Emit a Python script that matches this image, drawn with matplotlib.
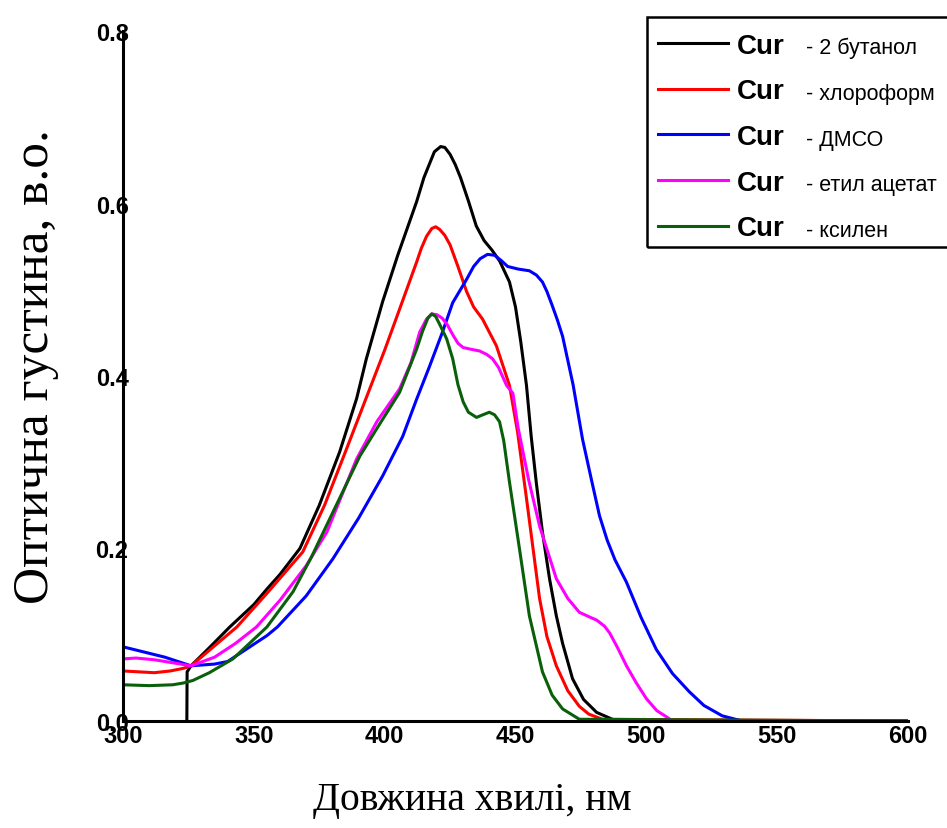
import matplotlib
matplotlib.use("Agg")
import matplotlib.pyplot as plt
from matplotlib.patches import Rectangle

# спектри поглинання куркуміну в різних розчинниках
black_x = [324.4, 324.5, 326, 333, 340.8, 350, 355, 360, 367.6, 375, 382.8, 389.3, 393, 399.2, 405, 412.2, 415,
           417, 419, 421.4, 423, 425, 427, 429, 432, 435, 438, 441, 444, 447.7, 450, 452, 454.2, 456, 458,
           460.3, 463, 465.6, 468, 471.8, 476, 481, 488.5, 600]
black_y = [0.0, 0.057, 0.064, 0.085, 0.109, 0.135, 0.153, 0.170, 0.200, 0.250, 0.312, 0.374, 0.420, 0.486, 0.540,
           0.602, 0.630, 0.645, 0.660, 0.666, 0.665, 0.657, 0.645, 0.630, 0.603, 0.574, 0.557, 0.546, 0.533, 0.509,
           0.480, 0.440, 0.389, 0.330, 0.275, 0.219, 0.165, 0.122, 0.090, 0.049, 0.025, 0.010, 0.0, 0.0]

red_x = [300, 306, 312, 318, 323, 326, 333, 343.5, 355, 368.7, 377, 385.5, 393, 400, 406, 412.2, 414, 416, 418,
         419.5, 421, 423, 425, 428, 431.3, 434, 437.4, 442.7, 447.7, 450.8, 454.2, 459.2, 462, 465.6, 470, 474.4,
         478, 483.2, 600]
red_y = [0.058, 0.057, 0.056, 0.058, 0.061, 0.064, 0.082, 0.109, 0.148, 0.196, 0.250, 0.316, 0.375, 0.430, 0.480,
         0.532, 0.548, 0.562, 0.571, 0.573, 0.570, 0.563, 0.552, 0.527, 0.498, 0.480, 0.466, 0.435, 0.389, 0.335,
         0.258, 0.142, 0.098, 0.064, 0.035, 0.017, 0.008, 0.002, 0.0]

blue_x = [300, 308, 316, 322, 326, 335, 340, 348, 355, 359, 370, 380.2, 390, 399.2, 406.9, 412.2, 417, 422.1, 426,
          431.3, 434, 436.5, 439.3, 442, 444.5, 447, 451, 455.3, 458, 460.3, 462, 464, 466, 468, 472, 475.6, 479,
          482.1, 485, 488, 492.4, 498, 503.8, 510, 516.4, 522, 529, 536.6, 600]
blue_y = [0.086, 0.080, 0.074, 0.068, 0.064, 0.066, 0.069, 0.085, 0.099, 0.109, 0.145, 0.188, 0.235, 0.284, 0.330,
          0.373, 0.410, 0.451, 0.485, 0.512, 0.527, 0.536, 0.541, 0.540, 0.534, 0.527, 0.524, 0.522, 0.517, 0.509,
          0.498, 0.482, 0.465, 0.446, 0.390, 0.327, 0.280, 0.238, 0.210, 0.187, 0.161, 0.120, 0.083, 0.055, 0.034,
          0.018, 0.006, 0.0, 0.0]

mag_x = [300, 305, 312, 320, 326, 335, 343, 351, 360, 370, 377.9, 389.3, 397, 405.7, 410, 413.4, 416, 418, 420,
         422, 424, 426, 428, 430, 433, 436.3, 439, 441.2, 443.5, 446.6, 449, 451, 455, 459.2, 465.6, 470, 474.4,
         478, 481, 484, 486, 489, 492.4, 496, 500, 504, 507.6, 510, 600]
mag_y = [0.072, 0.073, 0.071, 0.067, 0.064, 0.074, 0.090, 0.109, 0.140, 0.180, 0.219, 0.304, 0.347, 0.385, 0.415,
         0.451, 0.466, 0.472, 0.471, 0.467, 0.459, 0.448, 0.438, 0.433, 0.431, 0.429, 0.425, 0.420, 0.410, 0.389,
         0.380, 0.340, 0.280, 0.226, 0.165, 0.142, 0.126, 0.121, 0.117, 0.110, 0.102, 0.085, 0.064, 0.045, 0.026,
         0.012, 0.005, 0.0, 0.0]

green_x = [300, 310, 319, 323, 326.7, 333, 342, 355, 365, 372, 380.2, 390.5, 397, 405.7, 412.2, 414.5, 416.5, 418,
           419.5, 421, 423.7, 426, 428, 430, 432, 435.1, 437.5, 440, 442, 443.9, 445.5, 447.7, 451.5, 455.3, 460.3,
           464, 468, 474.4, 600]
green_y = [0.042, 0.041, 0.042, 0.044, 0.047, 0.056, 0.072, 0.109, 0.150, 0.190, 0.242, 0.307, 0.339, 0.381, 0.431,
           0.452, 0.467, 0.472, 0.469, 0.460, 0.443, 0.420, 0.390, 0.370, 0.358, 0.352, 0.355, 0.358, 0.355, 0.347,
           0.325, 0.277, 0.200, 0.122, 0.057, 0.030, 0.014, 0.002, 0.0]

solvents = ["- 2 бутанол", "- хлороформ", "- ДМСО", "- етил ацетат", "- ксилен"]
colors = ["#000000", "#ff0000", "#0000ff", "#ff00ff", "#0a5f0a"]

sans = ["Liberation Sans Narrow", "Liberation Sans", "DejaVu Sans"]
serif = ["Liberation Serif", "DejaVu Serif"]

W, H = 947, 829
fig = plt.figure(figsize=(W / 100, H / 100), dpi=100)
ax = fig.add_axes([123 / W, 107 / H, 785 / W, 690 / H])

series = [(black_x, black_y), (red_x, red_y), (blue_x, blue_y), (mag_x, mag_y), (green_x, green_y)]
lines = []
for (xs, ys), c in zip(series, colors):
    ln, = ax.plot(xs, ys, color=c, lw=2.2, solid_joinstyle="round")
    lines.append(ln)

ax.set_xlim(300, 600)
ax.set_ylim(0, 0.8)
ax.set_xticks([300, 350, 400, 450, 500, 550, 600])
ax.set_yticks([0.0, 0.2, 0.4, 0.6, 0.8])
ax.set_yticklabels(["0.0", "0.2", "0.4", "0.6", "0.8"])
for s in ["top", "right"]:
    ax.spines[s].set_visible(False)
for s in ["left", "bottom"]:
    ax.spines[s].set_linewidth(2.2)
ax.tick_params(axis="both", length=0, labelsize=17)
ax.tick_params(axis="x", pad=2)
ax.tick_params(axis="y", pad=-4)
for t in ax.get_xticklabels() + ax.get_yticklabels():
    t.set_family(sans)
    t.set_fontweight("bold")

fig.text(472 / W, 1 - 801 / H, "Довжина хвилі, нм", family=serif, fontsize=28.5, ha="center", va="center")
fig.text(36 / W, 1 - 367 / H, "Оптична густина, в.о.", family=serif, fontsize=37,
         ha="center", va="center", rotation=90)

leg = ax.legend(lines, ["Cur"] * 5, loc="upper left", bbox_to_anchor=(652 / W, 1 - 28 / H),
                bbox_transform=fig.transFigure, frameon=False, handlelength=2.52, handletextpad=0.32,
                labelspacing=0.71, borderpad=0.2, borderaxespad=0,
                prop={"family": "Liberation Sans", "weight": "bold", "size": 20})

# підписи розчинників праворуч від "Cur"
fig.canvas.draw()
for txt, name in zip(leg.get_texts(), solvents):
    bb = txt.get_window_extent()
    fig.text((bb.x1 + 22) / W, (bb.y0 + bb.y1) / 2 / H - 2 / H, name, family=sans, fontsize=15.5,
             ha="left", va="center")

fig.add_artist(Rectangle((647 / W, 1 - 248 / H), 0.4, 230 / H, transform=fig.transFigure,
                         fill=False, lw=1.8, ec="black", clip_on=False))

plt.savefig("out.png", dpi=100)
